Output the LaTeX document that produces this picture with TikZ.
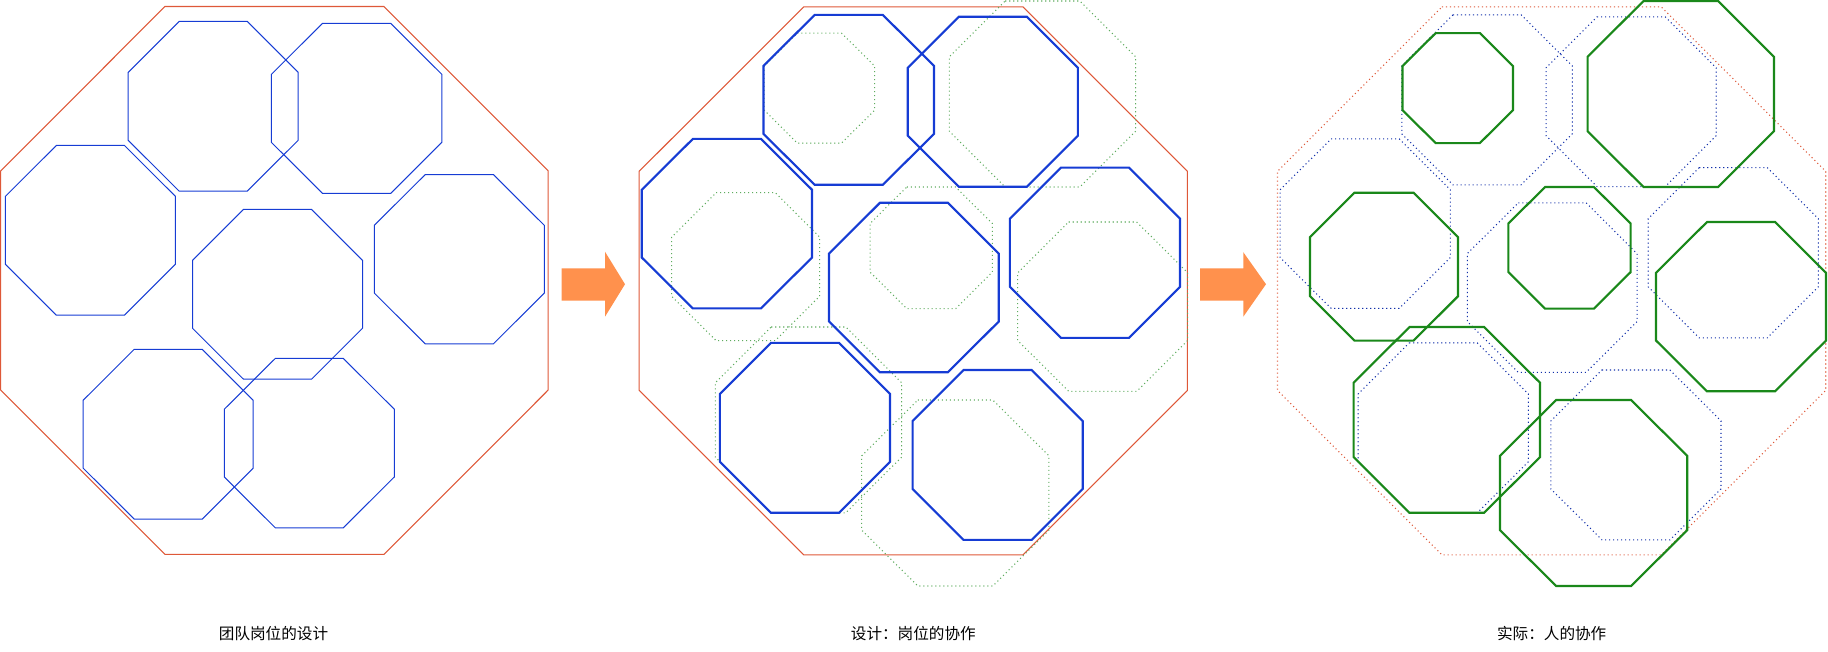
\documentclass[tikz,border=0pt]{standalone}
\usepackage{fontspec}
\newfontfamily\cjk{Noto Sans CJK SC}
\definecolor{ored}{RGB}{222,88,56}
\definecolor{oblue}{RGB}{22,60,212}
\definecolor{ogreen}{RGB}{26,136,26}
\definecolor{oarrow}{RGB}{255,145,77}
\newcommand{\myoct}[5][]{%
  \draw[#1] ({#2+0.3*(#4-#2)},#3) -- ({#4-0.3*(#4-#2)},#3) -- (#4,{#3+0.3*(#5-#3)}) -- (#4,{#5-0.3*(#5-#3)}) -- ({#4-0.3*(#4-#2)},#5) -- ({#2+0.3*(#4-#2)},#5) -- (#2,{#5-0.3*(#5-#3)}) -- (#2,{#3+0.3*(#5-#3)}) -- cycle;}
% design octagons of panel 2 (absolute coordinates)
\newcommand{\designset}[1]{%
  \myoct[#1]{763.5}{14.9}{934.0}{184.8}
  \myoct[#1]{907.8}{16.8}{1077.9}{186.7}
  \myoct[#1]{641.8}{138.9}{812.0}{308.4}
  \myoct[#1]{829.0}{202.8}{998.8}{372.3}
  \myoct[#1]{1009.9}{167.6}{1180.0}{337.9}
  \myoct[#1]{719.9}{342.9}{890.0}{512.8}
  \myoct[#1]{912.6}{370.0}{1082.7}{539.9}}
% actual octagons of panel 3 (absolute coordinates)
\newcommand{\actualset}[1]{%
  \myoct[#1]{1402.5}{33.1}{1513.0}{143.1}
  \myoct[#1]{1587.6}{1.0}{1774.0}{187.0}
  \myoct[#1]{1310.0}{192.7}{1458.0}{340.6}
  \myoct[#1]{1508.4}{187.0}{1630.6}{308.6}
  \myoct[#1]{1656.0}{222.0}{1826.0}{391.3}
  \myoct[#1]{1353.6}{327.0}{1540.0}{512.8}
  \myoct[#1]{1500.0}{400.0}{1687.2}{586.0}}
\tikzset{
  outline/.style={draw=ored, line width=0.8pt, line join=miter},
  thinrole/.style={draw=oblue, line width=0.75pt},
  thickrole/.style={draw=oblue, line width=1.6pt},
  thickperson/.style={draw=ogreen, line width=1.6pt},
  dotline/.style={line width=0.8pt, dash pattern=on 0.8pt off 2.2pt},
  blockarrow/.style={fill=oarrow, draw=none},
  caption/.style={font=\cjk\fontsize{11.7pt}{14pt}\selectfont, text=black, inner sep=0pt}
}
\begin{document}
\begin{tikzpicture}[x=0.75pt, y=-0.75pt]
\useasboundingbox (0,0) rectangle (1828,651);
% ---------- panel 1 ----------
\myoct[outline]{0.7}{6.5}{548.2}{554.4}
\myoct[thinrole]{128.2}{21.4}{298.2}{191.2}
\myoct[thinrole]{271.4}{23.3}{441.8}{193.4}
\myoct[thinrole]{5.4}{145.4}{175.4}{315.2}
\myoct[thinrole]{192.5}{209.4}{362.5}{379.2}
\myoct[thinrole]{374.3}{174.5}{544.3}{343.9}
\myoct[thinrole]{83.2}{349.3}{253.2}{519.1}
\myoct[thinrole]{224.3}{358.4}{394.3}{527.8}
% ---------- arrows ----------
\fill[blockarrow] (561.7,268.3) -- (605,268.3) -- (605,251.7) -- (625,284.2) -- (605,316.7) -- (605,300.7) -- (561.7,300.7) -- cycle;
\fill[blockarrow] (1200,268.3) -- (1243.3,268.3) -- (1243.3,252.2) -- (1266,284.2) -- (1243.3,316.7) -- (1243.3,300.7) -- (1200,300.7) -- cycle;
% ---------- panel 2 ----------
\myoct[outline]{639.2}{6.9}{1187.4}{554.8}
\begin{scope}[shift={(-638.3,0)}]
  \actualset{draw=ogreen!70, dotline}
\end{scope}
\designset{thickrole}
% ---------- panel 3 ----------
\begin{scope}[shift={(638.3,0)}]
  \myoct[draw=ored, dotline]{639.2}{6.9}{1187.4}{554.8}
  \designset{draw=oblue!80!black, dotline}
\end{scope}
\actualset{thickperson}
% ---------- captions ----------
\node[caption] (cap1) at (273.5,634) {团队岗位的设计};
\node[caption] (cap2) at (913.3,634) {设计：岗位的协作};
\node[caption] (cap3) at (1551.7,634) {实际：人的协作};
\end{tikzpicture}
\end{document}
